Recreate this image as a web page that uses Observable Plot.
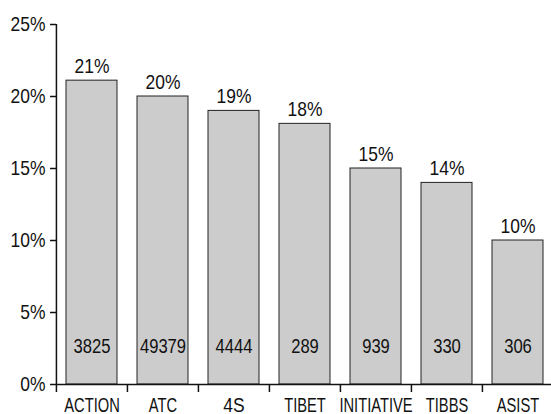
<!DOCTYPE html>
<html>
<head>
<meta charset="utf-8">
<script src="https://cdn.jsdelivr.net/npm/d3@7"></script>
<script src="https://cdn.jsdelivr.net/npm/@observablehq/plot@0.6"></script>
<style>
  html, body { margin: 0; padding: 0; background: #fff; }
  #chart svg { display: block; }
</style>
</head>
<body>
<div id="chart"></div>
<script>
const categories = ["ACTION", "ATC", "4S", "TIBET", "INITIATIVE", "TIBBS", "ASIST"];
const values = [21.1, 20, 19, 18.1, 15, 14, 10];
const pctLabels = ["21%", "20%", "19%", "18%", "15%", "14%", "10%"];
const counts = [3825, 49379, 4444, 289, 939, 330, 306];
const yTicks = [0, 5, 10, 15, 20, 25];

const data = categories.map((c, i) => ({cat: c, value: values[i], label: pctLabels[i], n: counts[i]}));

const xRange = [56, 554];
const step = (xRange[1] - xRange[0]) / categories.length;
const font = "'Liberation Sans', Arial, sans-serif";

const chart = Plot.plot({
  width: 551,
  height: 414,
  marginLeft: 56,
  marginRight: 0,
  marginTop: 24,
  marginBottom: 30,
  style: {fontFamily: font, fontSize: "20px", color: "#111", background: "#fff"},
  x: {domain: categories, range: xRange, paddingInner: 0.28, paddingOuter: 0.14, axis: null},
  y: {domain: [0, 25], range: [384, 24], axis: null},
  marks: [
    Plot.barY(data, {x: "cat", y: "value", fill: "#cccccc", stroke: "#222", strokeWidth: 1}),
    Plot.ruleY([0], {stroke: "#111", strokeWidth: 1.5}),
    Plot.ruleX([0], {x: () => categories[0], y1: 0, y2: 25, dx: -step / 2, stroke: "#111", strokeWidth: 1.5}),
    Plot.ruleX(categories, {x: d => d, y1: 0, y2: 0, insetBottom: -8, dx: -step / 2, stroke: "#111", strokeWidth: 1.5}),
    Plot.axisY({ticks: yTicks, tickSize: 6, tickPadding: 5, label: null, tickFormat: d => d + "%", fontSize: 21, stroke: "#111", strokeWidth: 1.5}),
    Plot.text(data, {x: "cat", y: "value", text: "label", lineAnchor: "bottom", dy: -8, fontSize: 21, fill: "#111"}),
    Plot.text(data, {x: "cat", y: 0, text: d => String(d.n), lineAnchor: "bottom", dy: -32, fontSize: 20, fill: "#111"}),
    Plot.text(data, {x: "cat", y: 0, text: "cat", lineAnchor: "bottom", dy: 27, fontSize: 21, fill: "#111"})
  ]
});
document.getElementById("chart").appendChild(chart);

// Emulate the condensed typeface of the original by narrowing the glyphs.
chart.querySelectorAll("text").forEach(t => {
  const len = t.getComputedTextLength();
  if (!len) return;
  const factor = /^[A-Z]/.test(t.textContent.trim()) ? 0.70 : 0.83;
  t.setAttribute("textLength", (len * factor).toFixed(2));
  t.setAttribute("lengthAdjust", "spacingAndGlyphs");
});
</script>
</body>
</html>
